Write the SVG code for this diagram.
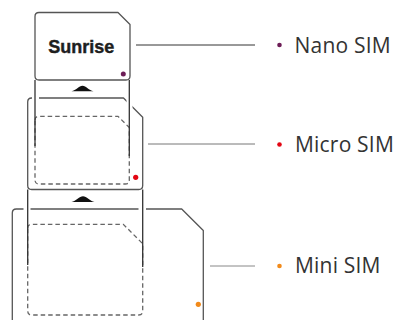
<svg xmlns="http://www.w3.org/2000/svg" width="395" height="320" viewBox="0 0 395 320">
<style>
.card{fill:none;stroke:#555;stroke-width:1.3;stroke-linejoin:round}
.guide{fill:none;stroke:#333;stroke-width:1.3}
.dash{fill:none;stroke:#666;stroke-width:1.3;stroke-dasharray:4.5 3}
.ko{fill:#fff;stroke:none}
.arrow{fill:#111}
.lbl{font-family:"Open Sans","DejaVu Sans",sans-serif;font-size:21px;letter-spacing:0.2px;fill:#333}
.conn{stroke-width:1;fill:none}
</style>
<rect width="395" height="320" fill="#fff"/>
<g id="mini-card">
<path class="card" d="M12.3,325 V213 Q12.3,209 16.3,209 H181.7 L203.3,230.5 V325"/>
<rect class="ko" x="23.5" y="206" width="7" height="6"/>
<rect class="ko" x="138.5" y="206" width="7.5" height="6"/>
<path class="dash" d="M27.7,228.3 Q27.7,224.3 31.7,224.3 H123.3 L142.7,243.7 V311 Q142.7,315 138.7,315 H31.7 Q27.7,315 27.7,311 Z"/>
<circle cx="198.3" cy="304.3" r="2.6" fill="#f28a1a"/>
</g>
<g id="micro-card">
<path class="card" d="M27.7,102 Q27.7,98 31.7,98 H123.5 L142.7,117.2 V185.5 Q142.7,189.5 138.7,189.5 H31.7 Q27.7,189.5 27.7,185.5 Z"/>
<rect class="ko" x="32" y="95" width="7" height="6"/>
<rect class="ko" x="126.5" y="99.5" width="6" height="9"/>
<path class="dash" d="M35,120.3 Q35,116.3 39,116.3 H118 L129.3,127.6 V180 Q129.3,184 125.3,184 H39 Q35,184 35,180 Z"/>
<circle cx="135.7" cy="177.3" r="2.6" fill="#e30613"/>
<path class="guide" d="M27.7,189.5 V265 M142.7,189.5 V267"/>
<path class="arrow" d="M71.5,202 C76,201 79.5,196.3 83,196.3 C86.5,196.3 90,201 94.5,202 Z"/>
</g>
<g id="nano-card">
<path class="card" d="M35,16.5 Q35,12.5 39,12.5 H118 L130,24.5 V76 Q130,80 126,80 H39 Q35,80 35,76 Z"/>
<text x="48.3" y="53" style="font-family:'Liberation Sans',Arial,sans-serif;font-weight:bold;font-size:18px;fill:#1e1e1e;stroke:#1e1e1e;stroke-width:0.4">Sunrise</text>
<circle cx="123.3" cy="74" r="2.5" fill="#6d1d57"/>
<path class="guide" d="M35,80 V146 M129.3,80 V156"/>
<path class="arrow" d="M71.5,91.3 C76,90.4 79,85.7 82.5,85.7 C86,85.7 89,90.4 93.5,91.3 Z"/>
</g>
<g id="connectors">
<line class="conn" x1="136" y1="45" x2="255" y2="45" stroke="#333"/>
<line class="conn" x1="148" y1="144" x2="255" y2="144" stroke="#777"/>
<line class="conn" x1="210" y1="266" x2="255" y2="266" stroke="#888"/>
</g>
<g id="label-nano">
<circle cx="279.5" cy="45" r="2.3" fill="#6d1d57"/>
<text class="lbl" x="294.5" y="52.5">Nano SIM</text>
</g>
<g id="label-micro">
<circle cx="279.5" cy="144.5" r="2.3" fill="#e30613"/>
<text class="lbl" x="295" y="152">Micro SIM</text>
</g>
<g id="label-mini">
<circle cx="279.5" cy="266" r="2.3" fill="#f28a1a"/>
<text class="lbl" x="295" y="272.5">Mini SIM</text>
</g>
</svg>
